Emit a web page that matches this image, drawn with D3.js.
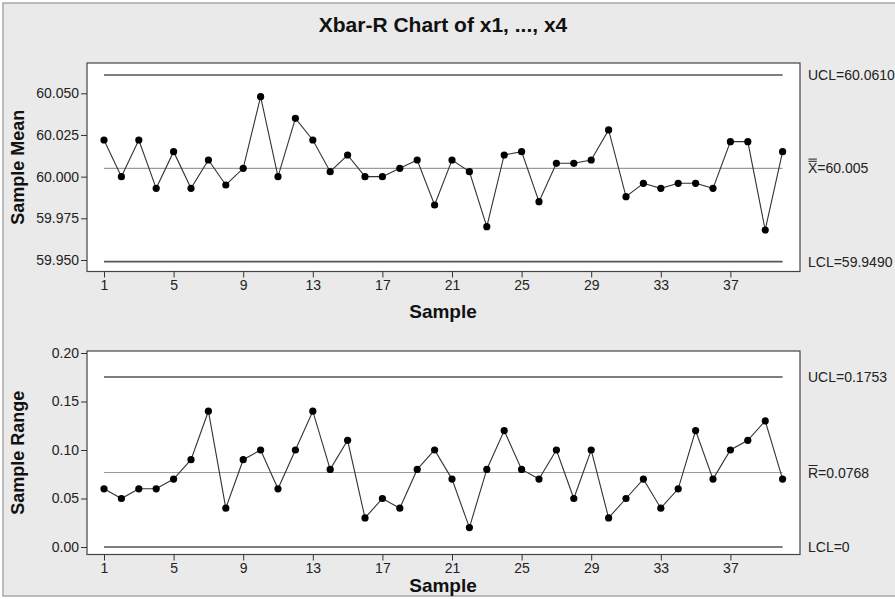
<!DOCTYPE html>
<html>
<head>
<meta charset="utf-8">
<script src="https://cdn.jsdelivr.net/npm/d3@7"></script>
<style>
  body { margin: 0; background: #fff; }
  svg { display: block; font-family: "Liberation Sans", Arial, sans-serif; }
  .axis text { font-size: 14px; fill: #222; }
  .axis path { display: none; }
  .axis line { stroke: #333; }
</style>
</head>
<body>
<div id="chart"></div>
<script>
// sample means (subgroups of x1..x4)
var means = [60.022, 60.000, 60.022, 59.993, 60.015, 59.993, 60.010, 59.995, 60.005, 60.048,
  60.000, 60.035, 60.022, 60.003, 60.013, 60.000, 60.000, 60.005, 60.010, 59.983,
  60.010, 60.003, 59.970, 60.013, 60.015, 59.985, 60.008, 60.008, 60.010, 60.028,
  59.988, 59.996, 59.993, 59.996, 59.996, 59.993, 60.021, 60.021, 59.968, 60.015];

// sample ranges
var ranges = [0.06, 0.05, 0.06, 0.06, 0.07, 0.09, 0.14, 0.04, 0.09, 0.10,
  0.06, 0.10, 0.14, 0.08, 0.11, 0.03, 0.05, 0.04, 0.08, 0.10,
  0.07, 0.02, 0.08, 0.12, 0.08, 0.07, 0.10, 0.05, 0.10, 0.03,
  0.05, 0.07, 0.04, 0.06, 0.12, 0.07, 0.10, 0.11, 0.13, 0.07];

var xTicks = [1, 5, 9, 13, 17, 21, 25, 29, 33, 37];
var meanTicks = [59.950, 59.975, 60.000, 60.025, 60.050];
var rangeTicks = [0.00, 0.05, 0.10, 0.15, 0.20];

var meanLimits = { ucl: 60.0610, center: 60.005, lcl: 59.9490 };
var rangeLimits = { ucl: 0.1753, center: 0.0768, lcl: 0 };

var width = 895;
var height = 599;

var svg = d3.select("#chart").append("svg")
  .attr("width", width)
  .attr("height", height);

// background + frame
svg.append("rect")
  .attr("x", 0).attr("y", 0)
  .attr("width", width).attr("height", height)
  .attr("fill", "#fff");
svg.append("rect")
  .attr("x", 3).attr("y", 3)
  .attr("width", width + 10).attr("height", height - 6)
  .attr("fill", "#eaeaea")
  .attr("stroke", "#a8a8a8")
  .attr("stroke-width", 1.5);

svg.append("text")
  .attr("x", 443).attr("y", 32)
  .attr("text-anchor", "middle")
  .style("font-size", "21px")
  .style("font-weight", "bold")
  .style("fill", "#111")
  .text("Xbar-R Chart of x1, ..., x4");

var xScale = d3.scaleLinear().domain([1, 40]).range([104, 782.6]);

function panel(opts) {
  var g = svg.append("g");
  var y = opts.y;

  g.append("rect")
    .attr("x", 87).attr("y", opts.top)
    .attr("width", 800 - 87).attr("height", opts.bottom - opts.top)
    .attr("fill", "#fff")
    .attr("stroke", "#444")
    .attr("stroke-width", 1.2);

  // control limits
  var lim = opts.limits;
  [["ucl", "#555", 1.6], ["lcl", "#555", 1.6], ["center", "#9a9a9a", 1.2]].forEach(function (l) {
    g.append("line")
      .attr("x1", xScale(1)).attr("x2", xScale(40))
      .attr("y1", y(lim[l[0]])).attr("y2", y(lim[l[0]]))
      .attr("stroke", l[1]).attr("stroke-width", l[2]);
  });

  // axes
  g.append("g")
    .attr("class", "axis")
    .attr("transform", "translate(87,0)")
    .call(d3.axisLeft(y).tickValues(opts.ticks).tickSize(6).tickPadding(2).tickFormat(opts.fmt));

  g.append("g")
    .attr("class", "axis")
    .attr("transform", "translate(0," + opts.bottom + ")")
    .call(d3.axisBottom(xScale).tickValues(xTicks).tickSize(6).tickPadding(3));

  // data
  var line = d3.line()
    .x(function (d, i) { return xScale(i + 1); })
    .y(function (d) { return y(d); });

  g.append("path")
    .attr("d", line(opts.values))
    .attr("fill", "none")
    .attr("stroke", "#333")
    .attr("stroke-width", 1.1);

  g.selectAll("circle")
    .data(opts.values).enter()
    .append("circle")
    .attr("cx", function (d, i) { return xScale(i + 1); })
    .attr("cy", function (d) { return y(d); })
    .attr("r", 3.6)
    .attr("fill", "#000");

  // y label
  g.append("text")
    .attr("transform", "translate(24," + ((opts.top + opts.bottom) / 2) + ") rotate(-90)")
    .attr("text-anchor", "middle")
    .style("font-size", "18px")
    .style("font-weight", "bold")
    .style("fill", "#111")
    .text(opts.ylabel);

  // x label
  g.append("text")
    .attr("x", 443).attr("y", opts.xlabelY)
    .attr("text-anchor", "middle")
    .style("font-size", "19px")
    .style("font-weight", "bold")
    .style("fill", "#111")
    .text("Sample");

  // limit labels on the right
  opts.labels.forEach(function (lb) {
    var base = y(lim[lb.key]) + 5;
    var t = g.append("text")
      .attr("x", 808).attr("y", base)
      .style("font-size", "14px")
      .style("fill", "#222")
      .text(lb.text);
    if (lb.bars) {
      // bar(s) over the first letter: X double bar, R single bar
      var w = t.node().getSubStringLength(0, 1);
      var top = base - 12;
      for (var b = 0; b < lb.bars; b++) {
        g.append("line")
          .attr("x1", 808.5).attr("x2", 808 + w - 0.5)
          .attr("y1", top - b * 2.2).attr("y2", top - b * 2.2)
          .attr("stroke", "#222").attr("stroke-width", 1);
      }
    }
  });
}

panel({
  values: means,
  limits: meanLimits,
  top: 63, bottom: 271.5,
  y: d3.scaleLinear().domain([59.95, 60.05]).range([260, 93.3]),
  ticks: meanTicks,
  fmt: d3.format(".3f"),
  ylabel: "Sample Mean",
  xlabelY: 318,
  labels: [
    { key: "ucl", text: "UCL=60.0610" },
    { key: "center", text: "X=60.005", bars: 2 },
    { key: "lcl", text: "LCL=59.9490" }
  ]
});

panel({
  values: ranges,
  limits: rangeLimits,
  top: 351, bottom: 554.5,
  y: d3.scaleLinear().domain([0, 0.20]).range([547, 353]),
  ticks: rangeTicks,
  fmt: d3.format(".2f"),
  ylabel: "Sample Range",
  xlabelY: 592,
  labels: [
    { key: "ucl", text: "UCL=0.1753" },
    { key: "center", text: "R=0.0768", bars: 1 },
    { key: "lcl", text: "LCL=0" }
  ]
});
</script>
</body>
</html>
